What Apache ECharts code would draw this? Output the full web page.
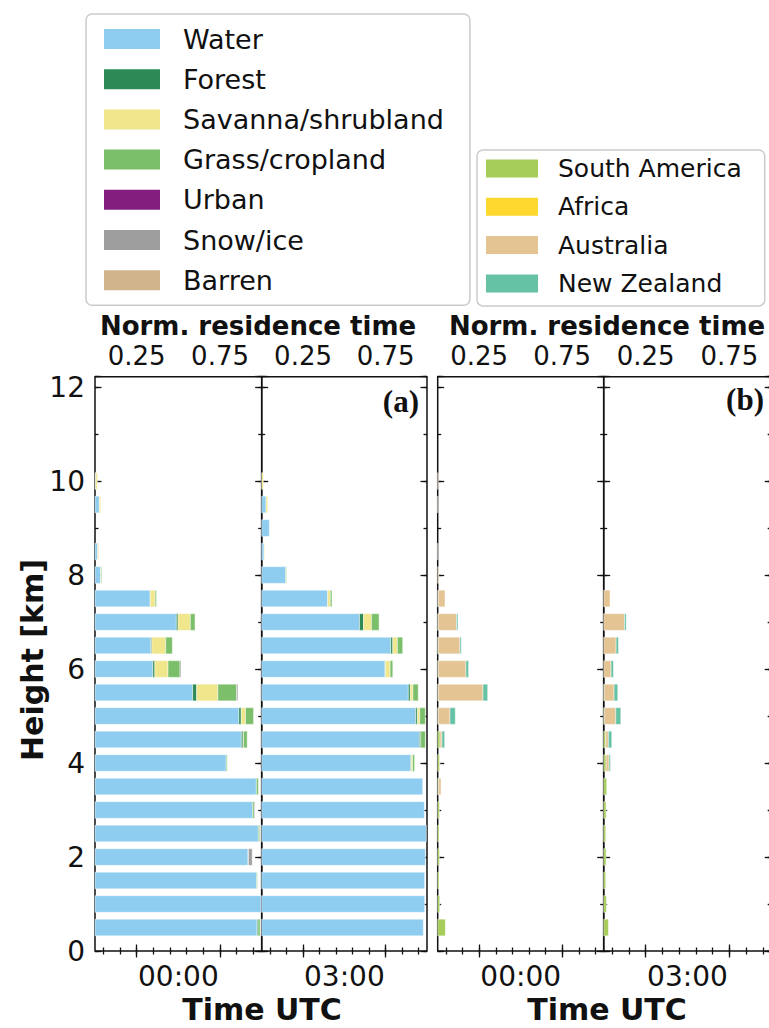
<!DOCTYPE html>
<html>
<head>
<meta charset="utf-8">
<script src="https://cdn.jsdelivr.net/npm/echarts@6/dist/echarts.min.js"></script>
<style>
html,body{margin:0;padding:0;background:#ffffff;}
#chart{width:769px;height:1028px;}
</style>
</head>
<body>
<div id="chart"></div>
<script>
// ---------------- data ----------------
const heights = [0.5, 1.0, 1.5, 2.0, 2.5, 3.0, 3.5, 4.0, 4.5, 5.0, 5.5, 6.0, 6.5, 7.0, 7.5, 8.0, 8.5, 9.0, 9.5, 10.0];

const landClasses = ['Water', 'Forest', 'Savanna/shrubland', 'Grass/cropland', 'Urban', 'Snow/ice', 'Barren'];
const regions = ['South America', 'Africa', 'Australia', 'New Zealand'];
const timeLabels = ['00:00', '03:00'];
const xTickCats = ['0.05', '0.15', '0.25', '0.35', '0.45', '0.55', '0.65', '0.75', '0.85', '0.95'];
const xTickLabels = ['0.25', '0.75'];
const yTickLabels = [0, 2, 4, 6, 8, 10, 12];

// Panel (a), 00:00 UTC
const a00_water   = [0.972, 0.996, 0.970, 0.918, 0.980, 0.946, 0.968, 0.787, 0.878, 0.863, 0.586, 0.347, 0.335, 0.488, 0.331, 0.034, 0.016, 0, 0.026, 0.004];
const a00_forest  = [0.006, 0, 0, 0, 0, 0, 0, 0, 0.010, 0.014, 0.024, 0.012, 0.006, 0.010, 0, 0, 0, 0, 0, 0];
const a00_savanna = [0, 0, 0, 0, 0, 0, 0, 0, 0.003, 0.026, 0.127, 0.079, 0.083, 0.074, 0.030, 0.004, 0.006, 0, 0.008, 0.010];
const a00_grass   = [0.012, 0, 0.004, 0.003, 0.008, 0.010, 0.012, 0.006, 0.022, 0.048, 0.112, 0.072, 0.040, 0.028, 0.008, 0.004, 0, 0, 0, 0];
const a00_urban   = [0, 0, 0, 0, 0, 0, 0, 0, 0, 0, 0, 0, 0, 0, 0, 0, 0, 0, 0, 0];
const a00_snow    = [0, 0, 0, 0.022, 0, 0.004, 0, 0, 0, 0, 0.008, 0.006, 0, 0, 0, 0, 0, 0, 0, 0];
const a00_barren  = [0, 0, 0, 0, 0, 0, 0, 0, 0, 0, 0, 0, 0, 0, 0, 0, 0, 0, 0, 0];

// Panel (a), 03:00 UTC
const a03_water   = [0.978, 0.986, 0.986, 0.990, 0.996, 0.984, 0.974, 0.901, 0.954, 0.932, 0.887, 0.745, 0.781, 0.592, 0.399, 0.145, 0.014, 0.046, 0.026, 0];
const a03_forest  = [0, 0, 0, 0, 0, 0, 0, 0.004, 0.008, 0.010, 0.012, 0.004, 0.012, 0.024, 0, 0, 0, 0, 0, 0];
const a03_savanna = [0, 0, 0, 0, 0, 0, 0, 0.008, 0, 0.014, 0.016, 0.028, 0.028, 0.048, 0.016, 0, 0.004, 0, 0.010, 0.010];
const a03_grass   = [0, 0, 0, 0, 0, 0, 0, 0.012, 0.028, 0.034, 0.032, 0.016, 0.032, 0.046, 0.010, 0.004, 0, 0, 0, 0];
const a03_urban   = [0, 0, 0, 0, 0, 0, 0, 0, 0, 0, 0, 0, 0, 0, 0, 0, 0, 0, 0, 0];
const a03_snow    = [0, 0, 0, 0, 0, 0, 0, 0, 0, 0, 0, 0, 0, 0, 0, 0, 0, 0, 0, 0];
const a03_barren  = [0, 0, 0, 0, 0, 0, 0, 0, 0, 0, 0, 0, 0, 0, 0, 0, 0, 0, 0, 0];

// Panel (b), 00:00 UTC
const b00_southAmerica = [0.046, 0.012, 0.008, 0.010, 0.008, 0.010, 0.006, 0.012, 0.014, 0.004, 0.004, 0.004, 0.004, 0.004, 0.004, 0, 0, 0, 0, 0];
const b00_africa       = [0, 0, 0, 0, 0, 0, 0, 0, 0, 0, 0, 0, 0, 0, 0, 0, 0, 0, 0, 0];
const b00_australia    = [0, 0, 0, 0, 0, 0, 0.014, 0.002, 0.012, 0.070, 0.269, 0.166, 0.130, 0.110, 0.040, 0.006, 0.002, 0, 0.002, 0.003];
const b00_newZealand   = [0, 0, 0, 0, 0, 0, 0, 0, 0.016, 0.032, 0.028, 0.016, 0.008, 0.008, 0, 0, 0, 0, 0, 0];

// Panel (b), 03:00 UTC
const b03_southAmerica = [0.028, 0.016, 0.012, 0.014, 0.012, 0.014, 0.018, 0.014, 0.012, 0.004, 0.004, 0, 0, 0, 0, 0, 0, 0, 0, 0];
const b03_africa       = [0, 0, 0, 0, 0, 0, 0, 0, 0, 0, 0, 0, 0, 0, 0, 0, 0, 0, 0, 0];
const b03_australia    = [0, 0, 0, 0, 0, 0, 0, 0.018, 0.016, 0.068, 0.058, 0.044, 0.074, 0.124, 0.038, 0, 0, 0, 0, 0];
const b03_newZealand   = [0, 0, 0, 0, 0, 0, 0, 0.008, 0.020, 0.030, 0.022, 0.014, 0.014, 0.010, 0, 0, 0, 0, 0, 0];

// ---------------- styles / layout ----------------
const landColors = ['#8ecdf0', '#2b8a56', '#f0e68c', '#7cbf6b', '#811e7e', '#9e9e9e', '#d2b48c'];
const regionColors = ['#a6cc5a', '#ffd82f', '#e5c494', '#66c2a5'];
const FONT = '"DejaVu Sans", "Noto Sans", sans-serif';
const INK = '#111111';
const BAR_HEIGHT = 0.355;
const GRID_TOP = 376.7, GRID_HEIGHT = 574.3;
const gridBoxes = [
  {left: 95, width: 166.7},
  {left: 261.7, width: 165.3},
  {left: 437.7, width: 166},
  {left: 603.7, width: 167.5}
];
const panelDefs = [
  {names: landClasses, colors: landColors, values: [a00_water, a00_forest, a00_savanna, a00_grass, a00_urban, a00_snow, a00_barren]},
  {names: landClasses, colors: landColors, values: [a03_water, a03_forest, a03_savanna, a03_grass, a03_urban, a03_snow, a03_barren]},
  {names: regions, colors: regionColors, values: [b00_southAmerica, b00_africa, b00_australia, b00_newZealand]},
  {names: regions, colors: regionColors, values: [b03_southAmerica, b03_africa, b03_australia, b03_newZealand]}
];

const grid = [], xAxis = [], yAxis = [], series = [];

gridBoxes.forEach((b, g) => {
  grid.push({left: b.left, width: b.width, top: GRID_TOP, height: GRID_HEIGHT,
    outerBoundsMode: 'none', containLabel: false,
    show: true, borderColor: INK, borderWidth: 1.5, backgroundColor: 'transparent'});

  const tickLine = {color: INK, width: 1.3};
  // data x axis (bottom) carrying the time label
  xAxis.push({gridIndex: g, type: 'value', min: 0, max: 1, interval: 0.5, position: 'bottom',
    axisLine: {show: false}, axisTick: {show: false}, splitLine: {show: false},
    axisLabel: {show: true, margin: 11, fontSize: 28, fontFamily: FONT, color: INK,
      showMinLabel: true, showMaxLabel: true,
      formatter: v => (Math.abs(v - 0.5) < 1e-9 ? timeLabels[g % 2] : '')}});
  // top minor ticks + labels
  xAxis.push({gridIndex: g, type: 'category', data: xTickCats, boundaryGap: true, position: 'top',
    axisLine: {show: false}, splitLine: {show: false},
    axisTick: {show: true, inside: true, alignWithLabel: true, interval: 0, length: 3.5, lineStyle: tickLine},
    axisLabel: {show: true, interval: 0, margin: 8, fontSize: 26, fontFamily: FONT, color: INK,
      formatter: v => (xTickLabels.includes(v) ? v : '')}});
  // top major ticks
  xAxis.push({gridIndex: g, type: 'category', data: xTickCats, boundaryGap: true, position: 'top',
    axisLine: {show: false}, splitLine: {show: false}, axisLabel: {show: false},
    axisTick: {show: true, inside: true, alignWithLabel: true, length: 6.5, lineStyle: tickLine,
      interval: (i, v) => xTickLabels.includes(v)}});
  // bottom minor ticks
  xAxis.push({gridIndex: g, type: 'category', data: xTickCats, boundaryGap: true, position: 'bottom',
    axisLine: {show: false}, splitLine: {show: false}, axisLabel: {show: false},
    axisTick: {show: true, inside: true, alignWithLabel: true, interval: 0, length: 3.5, lineStyle: tickLine}});
  // bottom major ticks
  xAxis.push({gridIndex: g, type: 'category', data: xTickCats, boundaryGap: true, position: 'bottom',
    axisLine: {show: false}, splitLine: {show: false}, axisLabel: {show: false},
    axisTick: {show: true, inside: true, alignWithLabel: true, length: 6.5, lineStyle: tickLine,
      interval: (i, v) => xTickLabels.includes(v)}});

  ['left', 'right'].forEach(pos => {
    yAxis.push({gridIndex: g, type: 'value', min: 0, max: 12.22, interval: 2, position: pos,
      axisLine: {show: false}, splitLine: {show: false},
      axisTick: {show: true, inside: true, length: 6.5, lineStyle: tickLine},
      axisLabel: {show: g === 0 && pos === 'left', margin: 10, fontSize: 28, fontFamily: FONT, color: INK,
        formatter: v => (yTickLabels.includes(v) ? String(v) : '')}});
    yAxis.push({gridIndex: g, type: 'value', min: 0, max: 12.22, interval: 1, position: pos,
      axisLine: {show: false}, splitLine: {show: false}, axisLabel: {show: false},
      axisTick: {show: true, inside: true, length: 3.5, lineStyle: tickLine}});
  });

  // stacked horizontal bars through the axes' scales
  const p = panelDefs[g];
  const cum = heights.map(() => 0);
  p.names.forEach((name, k) => {
    const vals = p.values[k];
    const data = [];
    heights.forEach((h, i) => {
      const v = vals[i];
      if (v > 0) data.push([cum[i], cum[i] + v, h]);
      cum[i] += v;
    });
    const color = p.colors[k];
    series.push({
      type: 'custom', name, xAxisIndex: g * 5, yAxisIndex: g * 4,
      itemStyle: {color}, encode: {x: [0, 1], y: 2}, data, silent: true,
      renderItem: (params, api) => {
        const s = api.coord([api.value(0), api.value(2)]);
        const e = api.coord([api.value(1), api.value(2)]);
        const bh = api.size([0, BAR_HEIGHT])[1];
        return {type: 'rect',
          shape: {x: s[0], y: s[1] - bh / 2, width: e[0] - s[0], height: bh},
          style: {fill: color, stroke: 'rgba(255,255,255,0.75)', lineWidth: 0.6}};
      }
    });
  });
});

const legendCommon = {orient: 'vertical', icon: 'rect', selectedMode: false,
  backgroundColor: '#ffffff', borderColor: '#cccccc', borderWidth: 1.5, borderRadius: 6};

const option = {
  animation: false,
  backgroundColor: '#ffffff',
  grid, xAxis, yAxis, series,
  legend: [
    Object.assign({}, legendCommon, {
      left: 86, top: 14, padding: [10, 26, 10, 18], itemGap: 10.2, itemWidth: 56, itemHeight: 20,
      textStyle: {fontSize: 27, fontFamily: FONT, color: INK, lineHeight: 30, padding: [0, 0, 0, 18]},
      data: landClasses.map((n, i) => ({name: n, itemStyle: {color: landColors[i]}}))
    }),
    Object.assign({}, legendCommon, {
      left: 477, top: 150, padding: [4.5, 23, 8.5, 9], itemGap: 10.3, itemWidth: 52, itemHeight: 18,
      textStyle: {fontSize: 25, fontFamily: FONT, color: INK, lineHeight: 28, padding: [0, 0, 0, 15]},
      data: regions.map((n, i) => ({name: n, itemStyle: {color: regionColors[i]}}))
    })
  ],
  graphic: [
    {type: 'text', x: 258, y: 326, style: {text: 'Norm. residence time', font: 'bold 26px ' + FONT, fill: INK, align: 'center', verticalAlign: 'middle'}},
    {type: 'text', x: 607, y: 326, style: {text: 'Norm. residence time', font: 'bold 26px ' + FONT, fill: INK, align: 'center', verticalAlign: 'middle'}},
    {type: 'text', x: 262, y: 1009, style: {text: 'Time UTC', font: 'bold 30px ' + FONT, fill: INK, align: 'center', verticalAlign: 'middle'}},
    {type: 'text', x: 607, y: 1009, style: {text: 'Time UTC', font: 'bold 30px ' + FONT, fill: INK, align: 'center', verticalAlign: 'middle'}},
    {type: 'text', x: 32, y: 660, rotation: Math.PI / 2, style: {text: 'Height [km]', font: 'bold 30px ' + FONT, fill: INK, align: 'center', verticalAlign: 'middle'}},
    {type: 'text', x: 419, y: 401, style: {text: '(a)', font: 'bold 31px "Liberation Serif", "DejaVu Serif", serif', fill: INK, align: 'right', verticalAlign: 'middle'}},
    {type: 'text', x: 764, y: 399, style: {text: '(b)', font: 'bold 31px "Liberation Serif", "DejaVu Serif", serif', fill: INK, align: 'right', verticalAlign: 'middle'}}
  ]
};

const chart = echarts.init(document.getElementById('chart'), null, {renderer: 'svg'});
chart.setOption(option);
</script>
</body>
</html>
